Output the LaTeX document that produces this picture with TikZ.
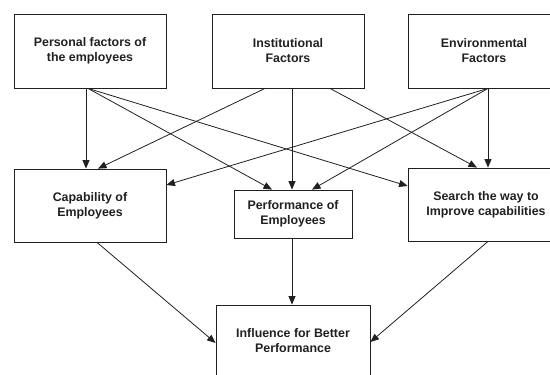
\documentclass[tikz,border=0pt]{standalone}
\usepackage{fontspec}
\setmainfont{Liberation Sans}
\usetikzlibrary{arrows.meta}
\definecolor{ink}{HTML}{202020}
\begin{document}
\begin{tikzpicture}[x=1pt,y=-1pt,
  box/.style={draw=ink, line width=0.8pt, inner sep=0pt, align=center,
    text=ink, font=\fontsize{12.4}{15}\selectfont\bfseries},
  link/.style={draw=ink, line width=0.8pt,
    -{Triangle[length=8.5pt,width=7pt]}}]
  \useasboundingbox (0,0) rectangle (550,375);
  \clip (0,0) rectangle (550,375);

  % top row: the three groups of factors
  \node[box, minimum width=152pt, minimum height=74pt] (pers) at (90,51)
    {Personal factors of\\the employees};
  \node[box, minimum width=152pt, minimum height=74pt] (inst) at (288,51)
    {Institutional\\Factors};
  \node[box, minimum width=152pt, minimum height=74pt] (env) at (484,51)
    {Environmental\\Factors};

  % middle row
  \node[box, minimum width=152pt, minimum height=73pt] (cap) at (90,205.5)
    {Capability of\\Employees};
  \node[box, minimum width=118pt, minimum height=48pt] (perf) at (293,214)
    {Performance of\\Employees};
  \node[box, minimum width=156pt, minimum height=73pt] (search) at (486,204.5)
    {Search the way to\\Improve capabilities};

  % outcome
  \node[box, minimum width=154pt, minimum height=72pt] (infl) at (293,341)
    {Influence for Better\\Performance};

  % personal factors
  \draw[link] ([xshift=-4pt]pers.south) -- ([xshift=-4pt]cap.north);
  \draw[link] ([xshift=-2pt]pers.south) -- ([xshift=-21pt]perf.north);
  \draw[link] ([xshift=-2pt]pers.south) -- ([yshift=18.5pt]search.west);

  % institutional factors
  \draw[link] ([xshift=-23pt]inst.south) -- ([xshift=8pt]cap.north);
  \draw[link] ([xshift=4pt]inst.south) -- ([xshift=-1pt]perf.north);
  \draw[link] ([xshift=42pt]inst.south) -- ([xshift=-9pt]search.north);

  % environmental factors
  \draw[link] ([xshift=4pt]env.south) -- ([yshift=20.5pt]cap.east);
  \draw[link] ([xshift=4pt]env.south) -- ([xshift=19pt]perf.north);
  \draw[link] ([xshift=4pt]env.south) -- ([xshift=2pt]search.north);

  % towards better performance
  \draw[link] ([xshift=7pt]cap.south) -- ([yshift=-2pt]infl.west);
  \draw[link] ([xshift=-1pt]perf.south) -- ([xshift=-1pt]infl.north);
  \draw[link] ([xshift=2pt]search.south) -- ([yshift=-1pt]infl.east);
\end{tikzpicture}
\end{document}
